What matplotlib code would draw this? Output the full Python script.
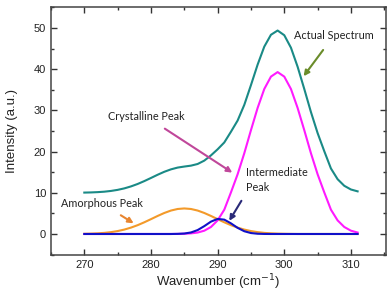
import matplotlib.pyplot as plt
from matplotlib.ticker import MultipleLocator

# wavenumber grid (cm^-1)
wn = list(range(270, 312))

amorphous = [0.05, 0.09, 0.16, 0.27, 0.45, 0.71, 1.07, 1.55, 2.14, 2.84,
             3.60, 4.38, 5.10, 5.69, 6.07, 6.20, 6.07, 5.69, 5.10, 4.38,
             3.60, 2.84, 2.14, 1.55, 1.07, 0.71, 0.45, 0.27, 0.16, 0.09,
             0.05, 0.02, 0, 0, 0, 0, 0, 0, 0, 0, 0, 0]

crystalline = [0, 0, 0, 0, 0, 0, 0, 0, 0, 0,
               0, 0, 0, 0, 0.02, 0.06, 0.15, 0.35, 0.8, 1.7,
               3.3, 5.9, 10.1, 14.5, 19.6, 25.2, 30.6, 35.2, 38.2, 39.3,
               38.2, 35.2, 30.6, 25.2, 19.6, 14.5, 10.1, 5.9, 3.3, 1.7,
               0.8, 0.35]

intermediate = [0, 0, 0, 0, 0, 0, 0, 0, 0, 0,
                0, 0, 0, 0, 0.03, 0.11, 0.37, 0.95, 1.91, 3.0,
                3.66, 3.48, 2.58, 1.49, 0.67, 0.23, 0.06, 0.01, 0, 0,
                0, 0, 0, 0, 0, 0, 0, 0, 0, 0, 0, 0]

actual = [10.05, 10.09, 10.16, 10.27, 10.45, 10.71, 11.07, 11.55, 12.14, 12.84,
          13.60, 14.38, 15.10, 15.69, 16.12, 16.37, 16.59, 16.99, 17.81, 19.08,
          20.56, 22.22, 24.82, 27.54, 31.34, 36.14, 41.11, 45.48, 48.36, 49.39,
          48.25, 45.22, 40.6, 35.2, 29.6, 24.5, 20.1, 15.9, 13.3, 11.7,
          10.8, 10.35]

plt.rcParams['font.family'] = ['Liberation Sans', 'DejaVu Sans']

fig = plt.figure(figsize=(3.88, 2.93), dpi=100)
ax = fig.add_axes([0.1314, 0.1297, 0.8624, 0.8464])

ax.plot(wn, actual, color='#1a8a86', lw=1.5)
ax.plot(wn, amorphous, color='#f39a2a', lw=1.5)
ax.plot(wn, crystalline, color='#ff1aff', lw=1.5)
ax.plot(wn, intermediate, color='#1010c8', lw=1.5)

ax.set_xlim(265, 315.2)
ax.set_ylim(-5.1, 55.1)
ax.xaxis.set_major_locator(MultipleLocator(10))
ax.xaxis.set_minor_locator(MultipleLocator(5))
ax.yaxis.set_major_locator(MultipleLocator(10))
ax.yaxis.set_minor_locator(MultipleLocator(5))
ax.set_yticks([0, 10, 20, 30, 40, 50])
ax.tick_params(which='both', direction='in', top=True, right=True,
               colors='#333333', labelcolor='#222222', labelsize=8, width=1)
ax.tick_params(which='major', length=4)
ax.tick_params(which='minor', length=2.5)
for s in ax.spines.values():
    s.set_color('#444444')
    s.set_linewidth(1.1)

ax.set_xlabel('Wavenumber (cm$^{-1}$)', fontsize=9.5, color='#222222', labelpad=2)
ax.set_ylabel('Intensity (a.u.)', fontsize=9.5, color='#222222', labelpad=11)

tf = dict(fontsize=7.8, family=['Lato', 'DejaVu Sans'], color='#222222')
ax.annotate('Actual Spectrum', xy=(302.9, 38.3), xytext=(307.5, 48.3),
            ha='center', va='center', **tf,
            arrowprops=dict(arrowstyle='-|>', color='#6a8c2a', lw=1.5,
                            mutation_scale=8, shrinkA=6, shrinkB=0))
ax.annotate('Crystalline Peak', xy=(292.2, 14.9), xytext=(279.3, 28.5),
            ha='center', va='center', **tf,
            arrowprops=dict(arrowstyle='-|>', color='#c0479a', lw=1.5,
                            mutation_scale=8, shrinkA=5, shrinkB=0))
ax.annotate('Amorphous Peak', xy=(277.4, 2.6), xytext=(272.6, 7.45),
            ha='center', va='center', **tf,
            arrowprops=dict(arrowstyle='-|>', color='#e8852f', lw=1.5,
                            mutation_scale=8, shrinkA=5, shrinkB=0))
ax.annotate('Intermediate\nPeak', xy=(291.75, 3.2), xytext=(294.25, 13.1),
            ha='left', va='center', linespacing=1.5, **tf,
            arrowprops=dict(arrowstyle='-|>', color='#2a2a78', lw=1.5,
                            mutation_scale=8, shrinkA=4, shrinkB=0,
                            relpos=(0.0, 0.0)))

fig.savefig('out.png', dpi=100)
